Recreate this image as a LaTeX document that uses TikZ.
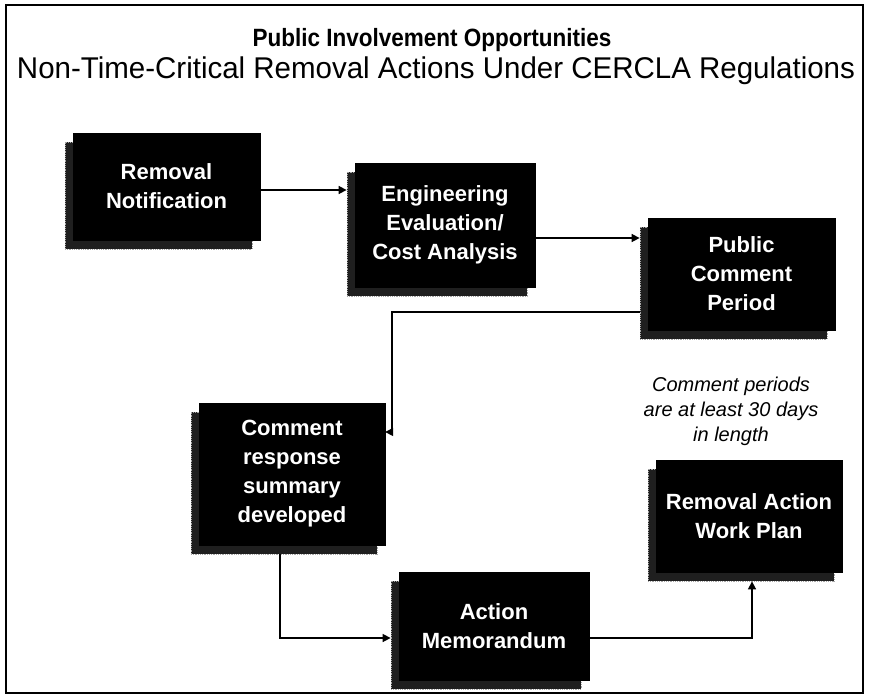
\documentclass[tikz,border=0pt]{standalone}
\usepackage{graphicx}
\usepackage{fontspec}
\setmainfont{Liberation Sans}
\usetikzlibrary{arrows.meta}
\newcommand{\mkbox}[6]{%
  \node[shadowbox, minimum width=#4pt, minimum height=#5pt] (#1s) at ({#2-8},{#3+9}) {};
  \node[mainbox, minimum width=#4pt, minimum height=#5pt] (#1) at (#2,#3) {#6};}
\begin{document}
\begin{tikzpicture}[x=1pt,y=-1pt,
  mainbox/.style={fill=black, draw=black, text=white, align=center, inner sep=0pt,
    font=\fontsize{22}{29}\selectfont\bfseries},
  shadowbox/.style={fill=black!88, draw=gray!70, densely dotted, line width=0.8pt, inner sep=0pt},
  conn/.style={draw=black, line width=1.6pt, -{Triangle[length=8pt,width=8pt]}},
  frameline/.style={draw=black, line width=2pt}]
\useasboundingbox (0,0) rectangle (869,698);
\fill[white] (0,0) rectangle (869,698);
\draw[frameline] (6,5) rectangle (863,693);

\node[font=\fontsize{25}{30}\selectfont\bfseries, anchor=base, inner sep=0pt] (title) at (432,47) {\scalebox{0.9}[1]{Public Involvement Opportunities}};
\node[font=\fontsize{30}{35}\selectfont, anchor=base, inner sep=0pt] (subtitle) at (436,79) {\scalebox{0.983}[1]{Non-Time-Critical Removal Actions Under CERCLA Regulations}};

\mkbox{b1}{166.5}{186.5}{187}{107}{Removal\\Notification}
\mkbox{b2}{445}{225}{180}{124}{Engineering\\Evaluation/\\Cost Analysis}
\mkbox{b3}{741.5}{274}{187}{112}{Public\\Comment\\Period}
\mkbox{b4}{292}{474}{186}{142}{Comment\\response\\summary\\developed}
\mkbox{b5}{494}{626}{190}{108}{Action\\Memorandum}
\mkbox{b6}{749}{516}{186}{112}{Removal Action\\Work Plan}

\node[font=\fontsize{20}{25}\selectfont\itshape, align=center, inner sep=0pt] (note) at (731,411) {Comment periods\\are at least 30 days\\in length};

\coordinate (c12) at (0,190);
\coordinate (c23) at (0,238);
\coordinate (c34) at (0,312);
\coordinate (k34) at (392,432);
\coordinate (k45) at (280,638);
\coordinate (k56) at (752,0);

\draw[conn] (b1.east |- c12) -- (b2s.west |- c12);
\draw[conn] (b2.east |- c23) -- (b3s.west |- c23);
\draw[conn] (b3s.west |- c34) -- (k34 |- c34) -- (k34) -- (b4.east |- k34);
\draw[conn] (b4s.south -| k45) -- (k45) -- (b5s.west |- k45);
\draw[conn] (b5.east |- k45) -- (k56 |- k45) -- (b6s.south -| k56);
\end{tikzpicture}
\end{document}
